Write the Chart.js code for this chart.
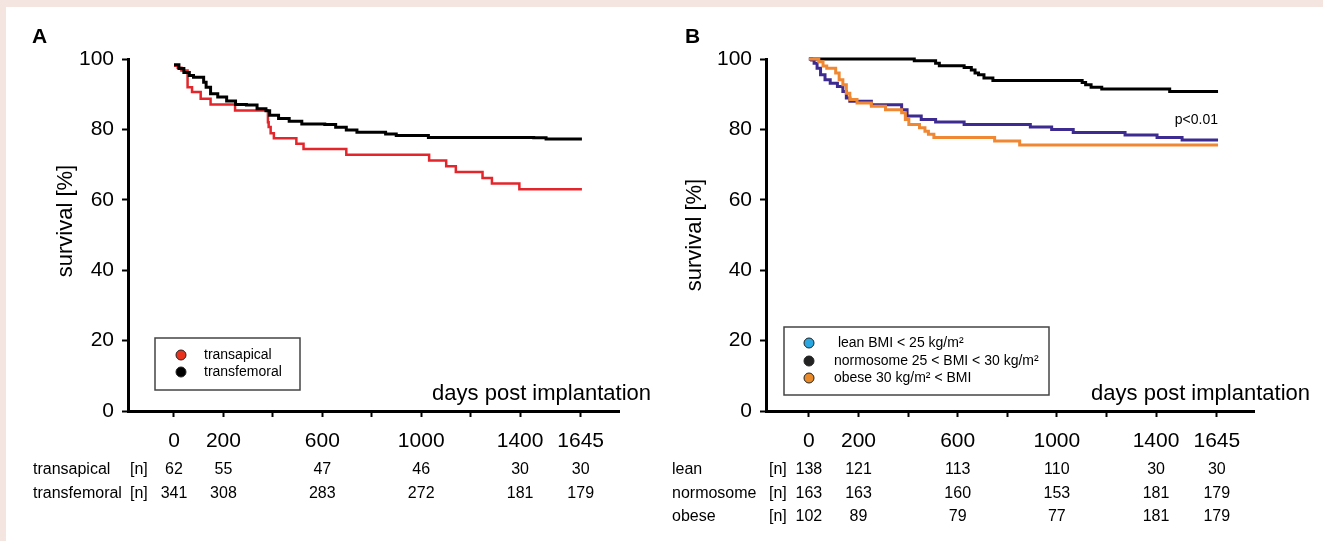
<!DOCTYPE html>
<html>
<head>
<meta charset="utf-8">
<script src="https://cdn.jsdelivr.net/npm/chart.js@4.4.0/dist/chart.umd.min.js"></script>
<style>
  html, body { margin: 0; padding: 0; }
  body { width: 1323px; height: 541px; background: #f5e5e0; position: relative; overflow: hidden; }
  #sheet { position: absolute; left: 6px; top: 7px; right: 0; bottom: 0; background: #fff; }
  .panel { position: absolute; top: 0; height: 541px; }
  #panelA { left: 0; width: 661px; }
  #panelB { left: 661px; width: 662px; }
</style>
</head>
<body>
<div id="sheet"></div>
<div class="panel" id="panelA"><canvas id="chartA" width="661" height="541"></canvas></div>
<div class="panel" id="panelB"><canvas id="chartB" width="662" height="541"></canvas></div>
<script>
// Kaplan-Meier steps: days post implantation / survival [%]

// Panel A
const transapicalDays = [0, 15, 30, 55, 73, 108, 148, 247, 380, 383, 391, 404, 495, 524, 697, 1032, 1101, 1140, 1248, 1286, 1397, 1650];
const transapicalSurv = [98.1, 97.5, 96.7, 92.0, 90.6, 88.7, 87.1, 85.4, 82.0, 80.7, 78.9, 77.5, 75.9, 74.4, 72.8, 71.2, 69.5, 67.9, 66.2, 64.6, 63.0, 63.0];
const transfemoralDays = [0, 20, 40, 62, 79, 120, 130, 148, 177, 213, 249, 293, 336, 372, 387, 423, 466, 517, 610, 654, 697, 740, 856, 899, 1029, 1455, 1505, 1650];
const transfemoralSurv = [98.4, 97.3, 96.2, 95.3, 94.8, 93.4, 92.0, 90.1, 89.2, 88.1, 87.1, 86.9, 85.9, 85.3, 84.0, 83.1, 82.3, 81.5, 81.4, 80.6, 79.8, 79.2, 78.7, 78.3, 77.7, 77.6, 77.3, 77.3];

// Panel B
const leanDays = [0, 11, 21, 33, 47, 65, 86, 115, 137, 151, 165, 252, 374, 396, 453, 511, 626, 893, 979, 1066, 1275, 1404, 1505, 1650];
const leanSurv = [100, 99.7, 98.8, 97.4, 95.5, 94.1, 93.1, 92.2, 90.8, 88.9, 88.0, 87.0, 85.6, 83.8, 82.8, 82.1, 81.4, 80.7, 80.0, 79.1, 78.4, 77.7, 77.0, 77.0];
const normoDays = [0, 425, 511, 526, 626, 655, 670, 684, 706, 742, 1102, 1116, 1138, 1181, 1455, 1650];
const normoSurv = [100, 99.5, 98.8, 98.1, 97.6, 96.9, 96.0, 95.5, 94.6, 93.9, 93.3, 92.7, 92.0, 91.5, 90.8, 90.8];
const obeseDays = [0, 40, 57, 72, 108, 122, 137, 151, 165, 194, 252, 309, 374, 389, 403, 446, 468, 482, 504, 749, 850, 1650];
const obeseSurv = [100, 99.2, 98.0, 97.4, 96.0, 94.1, 92.7, 90.3, 88.5, 87.5, 86.6, 85.6, 84.7, 82.8, 81.4, 80.5, 79.5, 78.6, 77.7, 76.7, 75.6, 75.6];

// axis ticks and numbers at risk
const xTickDays = [0, 200, 400, 600, 800, 1000, 1200, 1400, 1645];
const xTickLabels = ['0', '200', '', '600', '', '1000', '', '1400', '1645'];
const yTicks = [0, 20, 40, 60, 80, 100];
const riskDays = [0, 200, 600, 1000, 1400, 1645];
const riskTransapical = [62, 55, 47, 46, 30, 30];
const riskTransfemoral = [341, 308, 283, 272, 181, 179];
const riskLean = [138, 121, 113, 110, 30, 30];
const riskNormo = [163, 163, 160, 153, 181, 179];
const riskObese = [102, 89, 79, 77, 181, 179];

const FONT = '"Liberation Sans", Arial, sans-serif';

function steps(days, surv) {
    return days.map((d, i) => ({ x: d, y: surv[i] }));
}

// draws panel letter, axis titles, legend box, p value and numbers-at-risk table
const panelDecor = {
    id: 'panelDecor',
    afterDraw(chart, args, o) {
        const ctx = chart.ctx;
        const xs = chart.scales.x;
        ctx.save();
        ctx.fillStyle = '#000';

        ctx.font = 'bold 21px ' + FONT;
        ctx.textAlign = 'left';
        ctx.textBaseline = 'alphabetic';
        ctx.fillText(o.letter, o.letterX, 43);

        ctx.save();
        ctx.translate(o.yTitleX, o.yTitleY);
        ctx.rotate(-Math.PI / 2);
        ctx.font = '22px ' + FONT;
        ctx.textAlign = 'center';
        ctx.textBaseline = 'middle';
        ctx.fillText('survival [%]', 0, 0);
        ctx.restore();

        ctx.font = '22px ' + FONT;
        ctx.textAlign = 'right';
        ctx.textBaseline = 'alphabetic';
        ctx.fillText('days post implantation', o.xTitleRight, 400);

        if (o.pText) {
            ctx.font = '14px ' + FONT;
            ctx.textAlign = 'right';
            ctx.textBaseline = 'middle';
            ctx.fillText(o.pText, o.pX, o.pY);
        }

        // legend
        const lg = o.legend;
        ctx.strokeStyle = '#444';
        ctx.lineWidth = 1.5;
        ctx.strokeRect(lg.x, lg.y, lg.w, lg.h);
        ctx.font = '14px ' + FONT;
        ctx.textAlign = 'left';
        ctx.textBaseline = 'middle';
        lg.labels.forEach((label, i) => {
            ctx.beginPath();
            ctx.arc(lg.dotX, lg.rowY[i], 5, 0, Math.PI * 2);
            ctx.fillStyle = lg.colors[i];
            ctx.fill();
            ctx.lineWidth = 1;
            ctx.strokeStyle = '#222';
            ctx.stroke();
            ctx.fillStyle = '#000';
            ctx.fillText(label, lg.textX, lg.rowY[i]);
        });

        // numbers at risk
        ctx.font = '16px ' + FONT;
        o.rows.forEach((row, i) => {
            const y = o.rowY[i];
            ctx.textAlign = 'left';
            ctx.fillText(row.name, o.rowNameX, y);
            ctx.fillText('[n]', o.nX, y);
            ctx.textAlign = 'center';
            row.counts.forEach((n, j) => {
                ctx.fillText(String(n), xs.getPixelForValue(riskDays[j]), y);
            });
        });
        ctx.restore();
    }
};

function makeChart(id, datasets, xMin, xMax, yWidth, padRight, decor) {
    return new Chart(document.getElementById(id), {
        type: 'line',
        data: { datasets: datasets },
        options: {
            responsive: false,
            animation: false,
            layout: { padding: { left: 0, top: 59, right: padRight, bottom: 0 } },
            elements: { point: { radius: 0 }, line: { tension: 0 } },
            plugins: {
                legend: { display: false },
                tooltip: { enabled: false },
                panelDecor: decor
            },
            scales: {
                x: {
                    type: 'linear',
                    min: xMin,
                    max: xMax,
                    afterBuildTicks: (s) => { s.ticks = xTickDays.map(v => ({ value: v })); },
                    afterFit: (s) => { s.height = 130; },
                    border: { display: true, color: '#000', width: 3 },
                    grid: { drawOnChartArea: false, drawTicks: true, tickLength: 6, tickWidth: 2, tickColor: '#000' },
                    ticks: {
                        autoSkip: false,
                        maxRotation: 0,
                        padding: 12,
                        color: '#000',
                        font: { family: FONT, size: 21 },
                        callback: (v) => xTickLabels[xTickDays.indexOf(v)]
                    }
                },
                y: {
                    min: 0,
                    max: 100,
                    afterBuildTicks: (s) => { s.ticks = yTicks.map(v => ({ value: v })); },
                    afterFit: (s) => { s.width = yWidth; },
                    border: { display: true, color: '#000', width: 3 },
                    grid: { drawOnChartArea: false, drawTicks: true, tickLength: 6, tickWidth: 2, tickColor: '#000' },
                    ticks: {
                        padding: 8,
                        color: '#000',
                        font: { family: FONT, size: 21 }
                    }
                }
            }
        },
        plugins: [panelDecor]
    });
}

document.addEventListener('DOMContentLoaded', function () {
    makeChart('chartA', [
        { label: 'transapical', data: steps(transapicalDays, transapicalSurv), borderColor: '#e3262b', borderWidth: 2.5, stepped: 'before', fill: false, order: 1, clip: 4 },
        { label: 'transfemoral', data: steps(transfemoralDays, transfemoralSurv), borderColor: '#000', borderWidth: 3, stepped: 'before', fill: false, order: 0, clip: 4 }
    ], -186, 1800, 128, 42, {
        letter: 'A', letterX: 32,
        yTitleX: 66, yTitleY: 221,
        xTitleRight: 651,
        legend: { x: 155, y: 338, w: 145, h: 52, dotX: 181, textX: 204, rowY: [355, 372],
                  labels: ['transapical', 'transfemoral'], colors: ['#e8321e', '#000'] },
        rowNameX: 33, nX: 130, rowY: [470, 494],
        rows: [{ name: 'transapical', counts: riskTransapical }, { name: 'transfemoral', counts: riskTransfemoral }]
    });

    makeChart('chartB', [
        { label: 'lean', data: steps(leanDays, leanSurv), borderColor: '#3d2b91', borderWidth: 3, stepped: 'before', fill: false, order: 1, clip: 4 },
        { label: 'normosome', data: steps(normoDays, normoSurv), borderColor: '#000', borderWidth: 3, stepped: 'before', fill: false, order: 1, clip: 4 },
        { label: 'obese', data: steps(obeseDays, obeseSurv), borderColor: '#f08833', borderWidth: 3, stepped: 'before', fill: false, order: 0, clip: 4 }
    ], -173, 1795, 105, 69, {
        letter: 'B', letterX: 24,
        yTitleX: 34, yTitleY: 235,
        xTitleRight: 649,
        pText: 'p<0.01', pX: 557, pY: 120,
        legend: { x: 123, y: 327, w: 265, h: 68, dotX: 148, textX: 173, rowY: [343, 361, 378],
                  labels: [' lean BMI < 25 kg/m²', 'normosome 25 < BMI < 30 kg/m²', 'obese 30 kg/m² < BMI'],
                  colors: ['#2aa6e0', '#222', '#e8892a'] },
        rowNameX: 11, nX: 108, rowY: [470, 494, 517],
        rows: [{ name: 'lean', counts: riskLean }, { name: 'normosome', counts: riskNormo }, { name: 'obese', counts: riskObese }]
    });
});
</script>
</body>
</html>
